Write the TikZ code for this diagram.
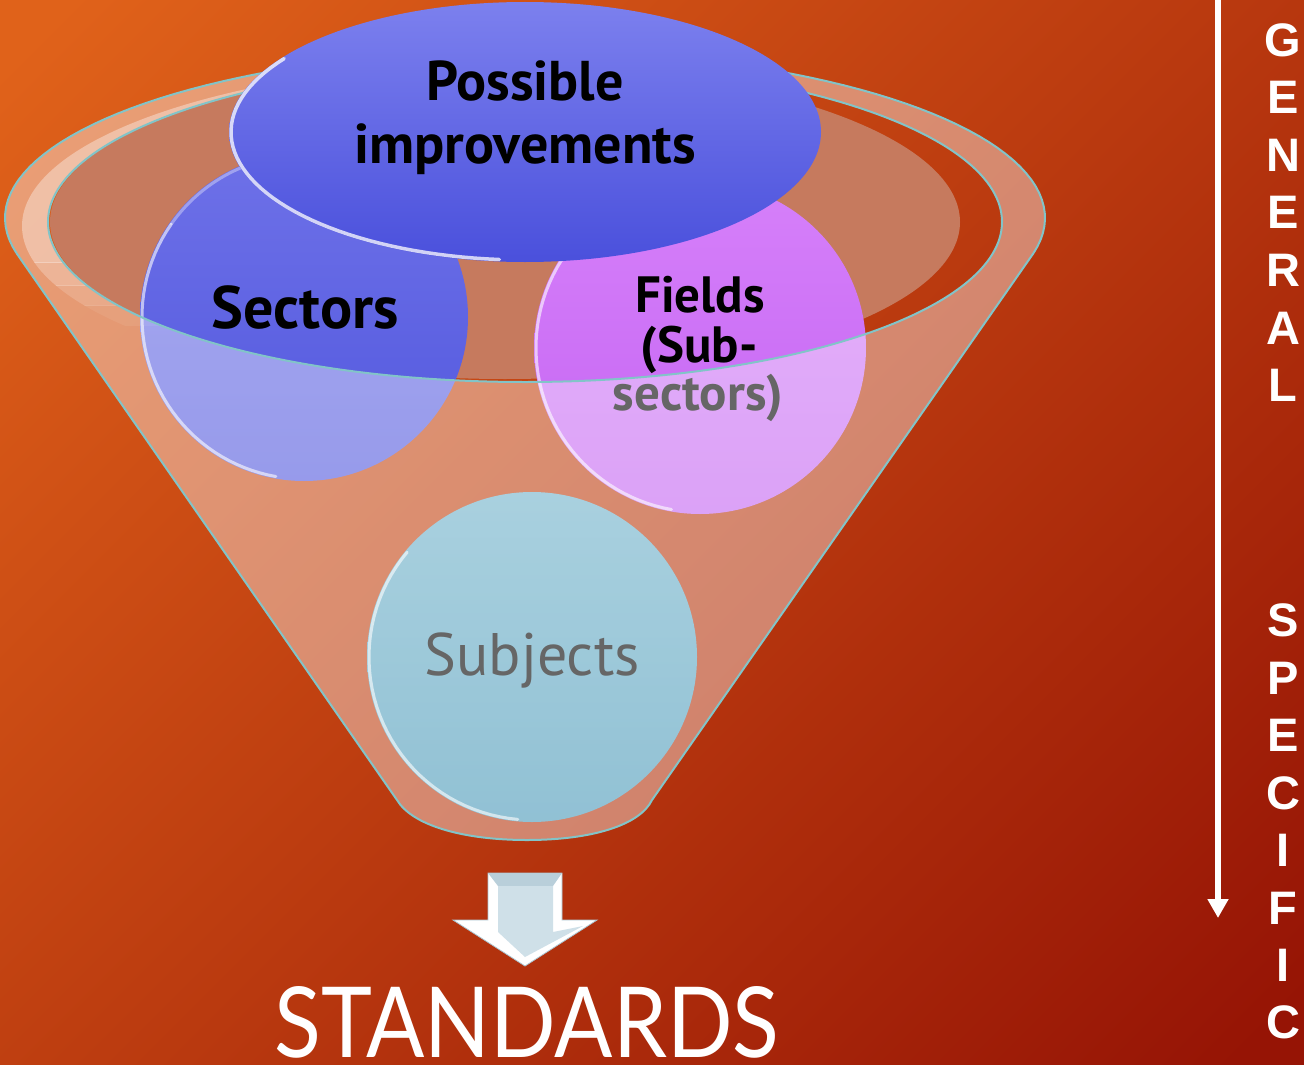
\documentclass[tikz,border=0pt]{standalone}
\usepackage{fontspec}
\usepackage{graphicx}
\usetikzlibrary{arrows.meta}
\newfontfamily\labfont{PT Sans}
\newfontfamily\stdfont{Lato}
\newfontfamily\sidefont{Liberation Sans}
\definecolor{bgA}{RGB}{224,98,26}
\definecolor{bgM}{RGB}{198,58,14}
\definecolor{bgB}{RGB}{150,20,5}
\definecolor{interior}{RGB}{198,122,94}
\definecolor{secA}{RGB}{110,113,232}
\definecolor{secB}{RGB}{82,88,222}
\definecolor{fldA}{RGB}{214,128,250}
\definecolor{fldB}{RGB}{196,100,242}
\definecolor{subA}{RGB}{112,178,202}
\definecolor{subB}{RGB}{72,152,184}
\definecolor{posA}{RGB}{124,128,238}
\definecolor{posB}{RGB}{74,80,220}
\definecolor{rimc}{RGB}{130,196,200}
\definecolor{arrface}{RGB}{207,224,232}
\definecolor{arredge}{RGB}{170,196,208}
\tikzset{
  rimline/.style={draw=rimc, line width=2pt},
  gloss/.style={draw=white, line width=3pt, opacity=0.6, line cap=round},
  lab/.style={inner sep=0pt, anchor=base, text=black},
  sidelet/.style={inner sep=0pt, anchor=center, text=white, font=\sidefont\bfseries\fontsize{47}{50}\selectfont},
}
\def\funnelbody{(16.4,253) -- (397,800) .. controls (412,825) and (462,840) .. (527,840) .. controls (592,840) and (640,825) .. (652,800) -- (1033.6,253)}
\def\bandpath{(521,226) ellipse [x radius=499, y radius=164] (525,222) ellipse [x radius=477, y radius=160]}
\begin{document}
\begin{tikzpicture}[x=1pt,y=-1pt]
\useasboundingbox (0,0) rectangle (1304,1065);
% background
\shade[shading=axis, top color=bgA, middle color=bgM, bottom color=bgB, shading angle=45] (-200,-200) rectangle (1504,1265);

% interior of the funnel
\begin{scope}
  \clip (525,222) ellipse [x radius=477, y radius=160];
  \fill[interior] (505,222) ellipse [x radius=455, y radius=157];
\end{scope}

% circles behind the funnel front
\shade[top color=secA, bottom color=secB] (304,317) circle [radius=164];
\draw[gloss] plot[domain=100:215, samples=40] ({304+162*cos(\x)},{317+162*sin(\x)});
\draw[gloss, opacity=0.35] plot[domain=215:250, samples=20] ({304+162*cos(\x)},{317+162*sin(\x)});
\node[lab, font=\labfont\bfseries\fontsize{60}{62}\selectfont] (sec) at (305,328) {Sectors};

\shade[top color=fldA, bottom color=fldB] (700,348) circle [radius=166];
\draw[gloss] plot[domain=100:215, samples=40] ({700+164*cos(\x)},{348+164*sin(\x)});
\node[lab, font=\labfont\bfseries\fontsize{51}{52}\selectfont] (fld1) at (700,312) {Fields};
\node[lab, font=\labfont\bfseries\fontsize{51}{52}\selectfont] (fld2) at (699,362) {(Sub-};
\node[lab, font=\labfont\bfseries\fontsize{51}{52}\selectfont] (fld3) at (698,410) {sectors)};

\shade[top color=subA, bottom color=subB] (532,657) circle [radius=165];
\draw[gloss] plot[domain=95:220, samples=40] ({532+163*cos(\x)},{657+163*sin(\x)});
\node[lab, font=\labfont\fontsize{60}{62}\selectfont] (sub) at (532,675) {Subjects};

% funnel front (translucent)
\begin{scope}[transparency group, opacity=0.4]
  \fill[white, even odd rule] \funnelbody -- plot[domain=12:-192, samples=90] ({525+520*cos(\x)},{218+168*sin(\x)}) -- cycle
     (525,222) ellipse [x radius=477, y radius=160];
  \fill[white, even odd rule] (525,218) ellipse [x radius=520, y radius=168]
     (525,222) ellipse [x radius=477, y radius=160];
\end{scope}
% highlight band on the left of the rim (fading out downwards)
\begin{scope}
  \clip (0,0) rectangle (260,262);
  \fill[white, opacity=0.36, even odd rule] \bandpath;
\end{scope}
\begin{scope}
  \clip (0,262) rectangle (260,285);
  \fill[white, opacity=0.26, even odd rule] \bandpath;
\end{scope}
\begin{scope}
  \clip (0,285) rectangle (260,305);
  \fill[white, opacity=0.16, even odd rule] \bandpath;
\end{scope}
\begin{scope}
  \clip (0,305) rectangle (260,325);
  \fill[white, opacity=0.07, even odd rule] \bandpath;
\end{scope}
% funnel edges
\draw[rimline] \funnelbody;
\draw[rimline] plot[domain=12:-192, samples=90] ({525+520*cos(\x)},{218+168*sin(\x)});
\draw[rimline] (525,222) ellipse [x radius=477, y radius=160];

% top ellipse
\shade[top color=posA, bottom color=posB] (525,132) ellipse [x radius=296, y radius=130];
\draw[gloss, line width=3.5pt, opacity=0.75] plot[domain=95:215, samples=50] ({525+294*cos(\x)},{132+128*sin(\x)});
\node[lab, font=\labfont\bfseries\fontsize{56}{58}\selectfont] (pos1) at (525,100) {Possible};
\node[lab, font=\labfont\bfseries\fontsize{56}{58}\selectfont] (pos2) at (525,163) {improvements};

% block arrow
\fill[white, draw=arredge, line width=0.8pt] (488,873) -- (562,873) -- (562,920) -- (597,920) -- (525,966) -- (453,920) -- (488,920) -- cycle;
\fill[arredge!60!arrface] (488,873) -- (562,873) -- (553,886) -- (498,886) -- cycle;
\fill[arrface] (498,886) -- (553,886) -- (553,932) -- (583,926) -- (525,957) -- (498,932) -- cycle;

\node[inner sep=0pt, anchor=base, text=white, font=\stdfont\fontsize{98}{100}\selectfont] (std) at (527,1057) {\scalebox{0.88}[1]{STANDARDS}};

% general -> specific arrow
\coordinate (vtop) at (1218,-5);
\coordinate (vbot) at (1218,918);
\draw[white, line width=6pt, -{Triangle[width=20pt,length=19pt]}] (vtop) -- (vbot);

\node[sidelet] (g1) at (1283,40) {G};
\node[sidelet] (g2) at (1283,97) {E};
\node[sidelet] (g3) at (1283,155) {N};
\node[sidelet] (g4) at (1283,212) {E};
\node[sidelet] (g5) at (1283,270) {R};
\node[sidelet] (g6) at (1283,328) {A};
\node[sidelet] (g7) at (1283,385) {L};

\node[sidelet] (s1) at (1283,620) {S};
\node[sidelet] (s2) at (1283,678) {P};
\node[sidelet] (s3) at (1283,735) {E};
\node[sidelet] (s4) at (1283,793) {C};
\node[sidelet] (s5) at (1283,850) {I};
\node[sidelet] (s6) at (1283,908) {F};
\node[sidelet] (s7) at (1283,965) {I};
\node[sidelet] (s8) at (1283,1022) {C};
\end{tikzpicture}
\end{document}
